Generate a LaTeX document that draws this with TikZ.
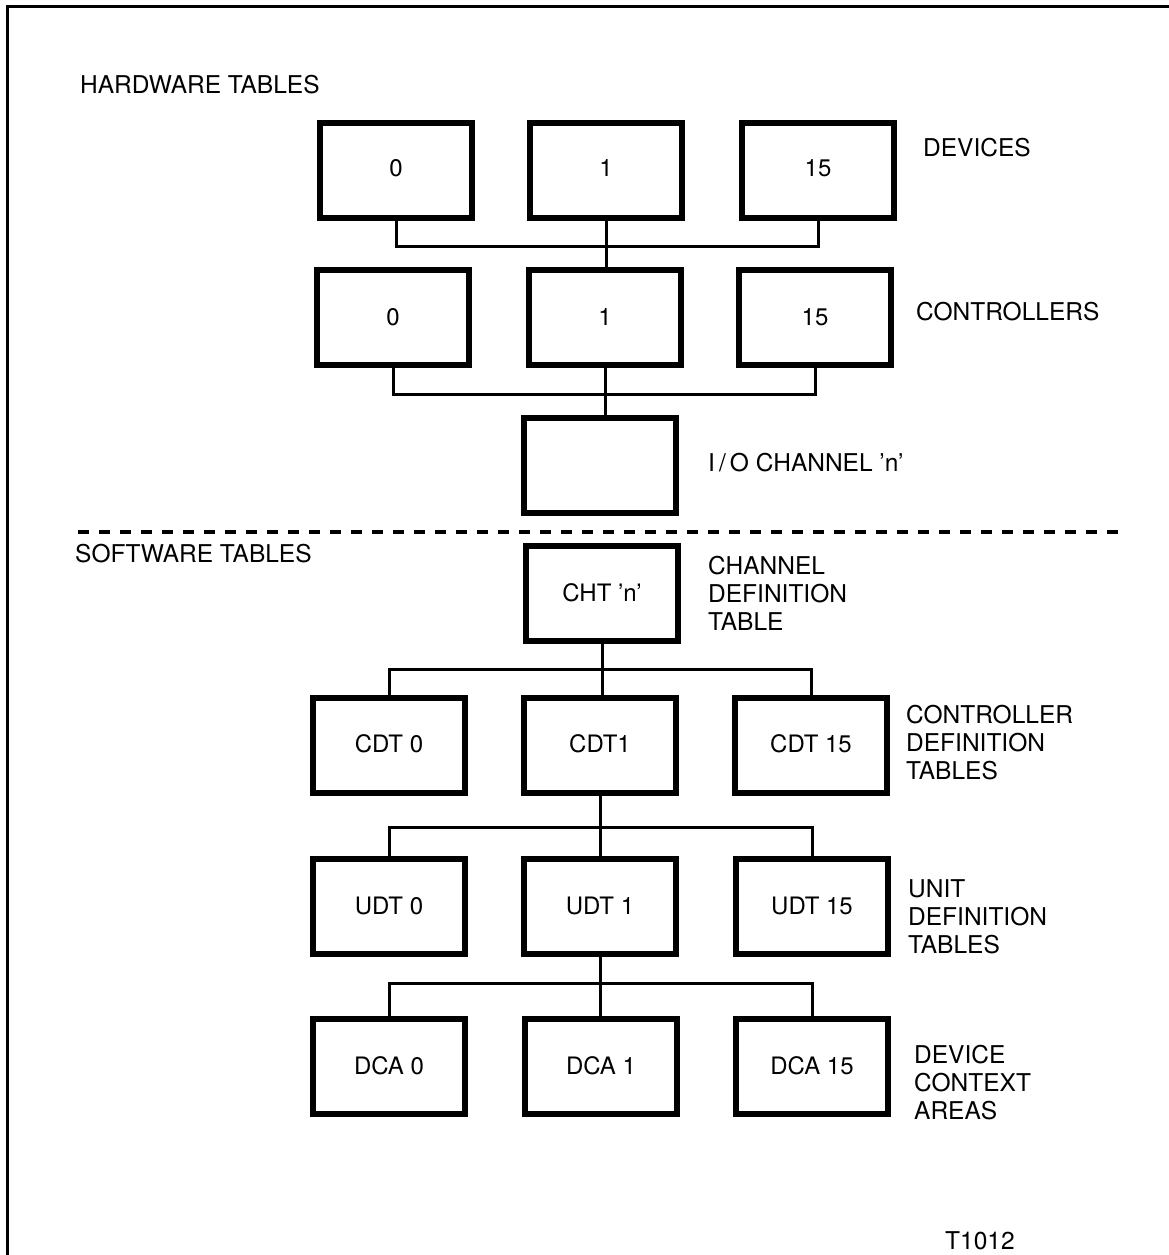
\documentclass[tikz,border=0pt]{standalone}
\usepackage{fontspec}
\setmainfont{TeX Gyre Heros}
\begin{document}
\begin{tikzpicture}[x=1pt,y=-1pt,
  box/.style={draw, line width=6pt, minimum width=152pt, minimum height=95pt, inner sep=0pt, font=\fontsize{24}{28}\selectfont},
  link/.style={line width=3pt},
  lbl/.style={inner sep=0pt, anchor=base west, font=\fontsize{24.5}{28}\selectfont},
  mlbl/.style={inner sep=0pt, anchor=north west, align=left, font=\fontsize{24.5}{28}\selectfont}]
\useasboundingbox (0,0) rectangle (1169,1255);
% frame
\coordinate (fr1) at (1169,7);
\coordinate (fr2) at (7,7);
\coordinate (fr3) at (7,1262);
\draw[line width=3pt] (fr1) -- (fr2) -- (fr3);

% hardware
\node[lbl] (hw) at (80,93) {HARDWARE TABLES};
\node[box] (d0) at (396,170.5) {\raisebox{6pt}{0}};
\node[box] (d1) at (606,170.5) {\raisebox{6pt}{1}};
\node[box] (d15) at (818,170.5) {\raisebox{6pt}{15}};
\node[lbl] (ldev) at (923,156) {DEVICES};

\node[box] (c0) at (393,317.5) {\raisebox{2pt}{0}};
\node[box] (c1) at (605,317.5) {\raisebox{2pt}{1}};
\node[box] (c15) at (815,317.5) {\raisebox{2pt}{15}};
\node[lbl] (lctl) at (916,320) {CONTROLLERS};

\node[box] (io) at (600,465.5) {};
\node[lbl] (lio) at (708,471) {I\,/\,O CHANNEL 'n'};

\coordinate (b1) at (606,246);
\draw[link] (d0.south) |- (b1) -| (d15.south);
\draw[link] (d1.south) -- (d1.south |- c1.north);
\coordinate (b2) at (606,394);
\draw[link] (c0.south) |- (b2) -| (c15.south);
\draw[link] (c1.south) -- (c1.south |- io.north);

% divider
\coordinate (dl) at (78,532);
\coordinate (dr) at (1128,532);
\draw[line width=3.5pt, dash pattern=on 11pt off 10pt] (dl) -- (dr);

% software
\node[lbl] (sw) at (75,562) {SOFTWARE TABLES};
\node[box] (cht) at (602,593) {CHT 'n'};
\node[mlbl] (lcht) at (708,555.5) {CHANNEL\\DEFINITION\\TABLE};

\node[box] (cdt0) at (389,745) {\raisebox{3pt}{CDT 0}};
\node[box] (cdt1) at (600,745) {\raisebox{3pt}{CDT1}};
\node[box] (cdt15) at (811,745) {\raisebox{3pt}{CDT 15}};
\node[mlbl] (lcdt) at (906,704.5) {CONTROLLER\\DEFINITION\\TABLES};

\node[box] (udt0) at (389,906) {\raisebox{-8pt}{UDT 0}};
\node[box] (udt1) at (600,906) {\raisebox{-8pt}{UDT 1}};
\node[box] (udt15) at (812,906) {\raisebox{-8pt}{UDT 15}};
\node[mlbl] (ludt) at (908,879.5) {UNIT\\DEFINITION\\TABLES};

\node[box] (dca0) at (389,1066) {DCA 0};
\node[box] (dca1) at (601,1066) {DCA 1};
\node[box] (dca15) at (812,1066) {DCA 15};
\node[mlbl] (ldca) at (914,1044.5) {DEVICE\\CONTEXT\\AREAS};

\coordinate (b3) at (602,669);
\draw[link] (cht.south) -- (cht.south |- cdt1.north);
\draw[link] (cdt0.north) |- (b3) -| (cdt15.north);
\coordinate (b4) at (602,827);
\draw[link] (cdt1.south) -- (cdt1.south |- udt1.north);
\draw[link] (udt0.north) |- (b4) -| (udt15.north);
\coordinate (b5) at (605,983);
\draw[link] (udt1.south) -- (udt1.south |- dca1.north);
\draw[link] (dca0.north) |- (b5) -| (dca15.north);

\node[lbl] (tag) at (945,1249) {T1012};
\end{tikzpicture}
\end{document}
